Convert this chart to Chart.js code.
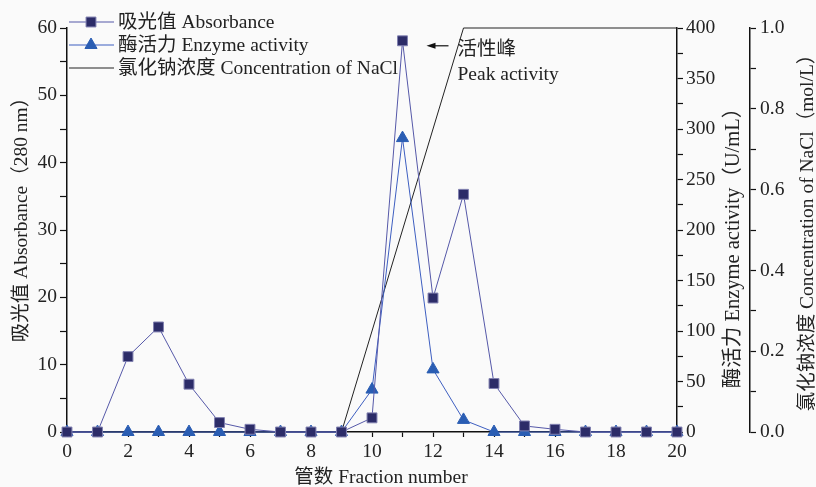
<!DOCTYPE html>
<html>
<head>
<meta charset="utf-8">
<script src="https://cdn.jsdelivr.net/npm/chart.js@4/dist/chart.umd.min.js"></script>
<style>
  body { margin: 0; background: #fafafa; }
</style>
</head>
<body>
<canvas id="chart" width="816" height="487"></canvas>
<script>
// data
const fractions = [0, 1, 2, 3, 4, 5, 6, 7, 8, 9, 10, 11, 12, 13, 14, 15, 16, 17, 18, 19, 20];
const absorbance = [0, 0, 11.2, 15.6, 7.1, 1.4, 0.4, 0, 0, 0, 2.1, 58.1, 19.9, 35.3, 7.2, 0.9, 0.4, 0, 0, 0, 0];
const enzyme = [0, 0, 0, 0, 0, 0, 0, 0, 0, 0, 42, 291, 62, 12, 0, 0, 0, 0, 0, 0, 0];
const naclFractions = [0, 9, 13, 20];
const nacl = [0, 0, 1.0, 1.0];

const labelAbs = '吸光值 Absorbance';
const labelEnz = '酶活力 Enzyme activity';
const labelNacl = '氯化钠浓度 Concentration of NaCl';

const serif = "'Liberation Serif', 'Noto Sans CJK SC', serif";
const fontSize = 19.5;
const textColor = '#222';
const axisColor = '#111';

function pts(xs, ys) {
  return xs.map((x, i) => ({ x: x, y: ys[i] }));
}

// axis titles: text, centre x, centre y, rotation, font size
const axisTitles = [
  ['管数 Fraction number', 381, 478, 0, 19.5],
  ['吸光值 Absorbance（280 nm）', 22, 215, -Math.PI / 2, 19.5],
  ['酶活力 Enzyme activity（U/mL）', 734, 243, -Math.PI / 2, 20.5],
  ['氯化钠浓度 Concentration of NaCl（mol/L）', 808, 228, -Math.PI / 2, 19.5]
];

// legend, axis titles and the peak note
const extras = {
  id: 'extras',
  afterDraw(chart) {
    const ctx = chart.ctx;
    const ds = chart.data.datasets;
    ctx.save();
    ctx.font = fontSize + 'px ' + serif;
    ctx.fillStyle = textColor;
    ctx.textBaseline = 'middle';

    // legend
    const rows = [22, 45, 68];
    ds.forEach((d, i) => {
      const y = rows[i];
      ctx.strokeStyle = d.borderColor;
      ctx.lineWidth = 1;
      ctx.beginPath();
      ctx.moveTo(69, y);
      ctx.lineTo(114, y);
      ctx.stroke();
      if (d.pointRadius > 0) {
        ctx.fillStyle = d.pointBackgroundColor;
        ctx.strokeStyle = d.pointBorderColor;
        ctx.beginPath();
        Chart.helpers.drawPoint(ctx, {
          pointStyle: d.pointStyle, radius: d.pointRadius, borderWidth: d.pointBorderWidth
        }, 91, y);
      }
      ctx.fillStyle = textColor;
      ctx.textAlign = 'left';
      ctx.fillText(d.label, 118, y + 1);
    });

    // axis titles
    axisTitles.forEach(([t, x, y, rot, size]) => {
      ctx.save();
      ctx.font = size + 'px ' + serif;
      ctx.translate(x, y);
      ctx.rotate(rot);
      ctx.textAlign = 'center';
      ctx.fillText(t, 0, 0);
      ctx.restore();
    });

    // peak note
    const peak = absorbance.indexOf(Math.max(...absorbance));
    const px = chart.scales.x.getPixelForValue(fractions[peak]) + 24;
    const py = chart.scales.y.getPixelForValue(absorbance[peak]) + 5;
    ctx.strokeStyle = '#111';
    ctx.fillStyle = '#111';
    ctx.lineWidth = 1.2;
    ctx.beginPath();
    ctx.moveTo(px + 22, py);
    ctx.lineTo(px + 6, py);
    ctx.stroke();
    ctx.beginPath();
    ctx.moveTo(px, py);
    ctx.lineTo(px + 9, py - 3);
    ctx.lineTo(px + 9, py + 3);
    ctx.closePath();
    ctx.fill();
    ctx.fillStyle = textColor;
    ctx.textAlign = 'left';
    ctx.fillText('活性峰', px + 31, py + 4);
    ctx.fillText('Peak activity', px + 31, py + 29);
    ctx.restore();
  }
};

const tickFont = { family: serif, size: fontSize };

new Chart(document.getElementById('chart'), {
  type: 'line',
  data: {
    datasets: [
      {
        label: labelAbs,
        data: pts(fractions, absorbance),
        yAxisID: 'y',
        borderColor: '#5558a8',
        borderWidth: 1,
        pointStyle: 'rect',
        pointRadius: 7,
        pointBackgroundColor: '#2c2c68',
        pointBorderColor: '#8080b0',
        pointBorderWidth: 1,
        tension: 0,
        clip: false
      },
      {
        label: labelEnz,
        data: pts(fractions, enzyme),
        yAxisID: 'y1',
        borderColor: '#3d5ec0',
        borderWidth: 1,
        pointStyle: 'triangle',
        pointRadius: 7,
        pointBackgroundColor: '#2a5db3',
        pointBorderColor: '#2a5db3',
        pointBorderWidth: 1,
        tension: 0,
        clip: false
      },
      {
        label: labelNacl,
        data: pts(naclFractions, nacl),
        yAxisID: 'y2',
        borderColor: '#222',
        borderWidth: 1,
        pointRadius: 0,
        tension: 0,
        clip: false
      }
    ]
  },
  options: {
    responsive: false,
    animation: false,
    devicePixelRatio: 1,
    layout: { padding: { top: 28, left: 0, right: 0, bottom: 0 } },
    plugins: {
      legend: { display: false },
      tooltip: { enabled: false }
    },
    scales: {
      x: {
        type: 'linear',
        position: 'bottom',
        min: 0,
        max: 20,
        border: { color: axisColor, width: 1.5 },
        grid: { drawOnChartArea: false, tickLength: 5, tickColor: axisColor, tickWidth: 1.2 },
        ticks: {
          stepSize: 1, autoSkip: false, maxRotation: 0, padding: 3,
          font: tickFont, color: textColor,
          callback: v => (v % 2 === 0 ? v : '')
        },
        afterFit: s => { s.height = 55; }
      },
      y: {
        position: 'left',
        min: 0,
        max: 60,
        border: { color: axisColor, width: 1.5 },
        grid: { drawOnChartArea: false, tickLength: 7, tickColor: axisColor, tickWidth: 1.2 },
        ticks: {
          stepSize: 5, autoSkip: false, padding: 3,
          font: tickFont, color: textColor,
          callback: v => (v % 10 === 0 ? v : '')
        },
        afterFit: s => { s.width = 67; }
      },
      y1: {
        position: 'right',
        min: 0,
        max: 400,
        border: { color: axisColor, width: 1.5 },
        grid: { drawOnChartArea: false, tickLength: 6, tickColor: axisColor, tickWidth: 1.2 },
        ticks: {
          stepSize: 25, autoSkip: false, padding: 3,
          font: tickFont, color: textColor,
          callback: v => (v % 50 === 0 ? v : '')
        },
        afterFit: s => { s.width = 73; }
      },
      y2: {
        position: 'right',
        min: 0,
        max: 1,
        border: { color: axisColor, width: 1.5 },
        grid: { drawOnChartArea: false, tickLength: 6, tickColor: axisColor, tickWidth: 1.2 },
        ticks: {
          stepSize: 0.1, autoSkip: false, padding: 4,
          font: tickFont, color: textColor,
          callback: v => (Math.round(v * 10) % 2 === 0 ? v.toFixed(1) : '')
        },
        afterFit: s => { s.width = 66; }
      }
    }
  },
  plugins: [extras]
});
</script>
</body>
</html>
